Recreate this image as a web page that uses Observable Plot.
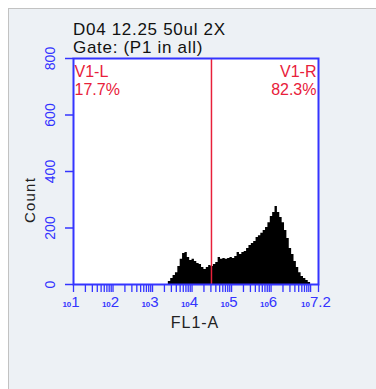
<!DOCTYPE html>
<html><head><meta charset="utf-8">
<script src="https://cdn.jsdelivr.net/npm/d3@7"></script>
<script src="https://cdn.jsdelivr.net/npm/@observablehq/plot@0.6"></script>
<style>body{margin:0;background:#fff;} svg{display:block}</style>
</head><body><div id="chart"></div>
<script>
const titleLines = ["D04 12.25 50ul 2X", "Gate: (P1 in all)"];
const yTicks = [0, 200, 400, 600, 800];
const xLabelExps = ["1", "2", "3", "4", "5", "6", "7.2"];
const xAxisLabel = "FL1-A";
const yAxisLabel = "Count";
const binStartLog = 3.4, binWidthLog = 0.06;
const counts = [11,21,32,42,64,89,110,113,96,85,89,81,74,71,60,53,60,67,64,71,
  78,96,89,92,89,92,96,92,99,113,106,113,117,127,138,145,152,166,173,181,
  191,202,219,241,255,276,255,237,219,191,163,127,106,81,60,42,28,21,14,7];
const gateValue = 31000;
const regionNames = ["V1-L", "V1-R"];
const regionPcts = ["17.7%", "82.3%"];

const blue = "#3434ff", red = "#e8203a";
const steps = counts.map((c, i) => ({x: 10 ** (binStartLog + i * binWidthLog), y: c}));
steps.push({x: 10 ** (binStartLog + counts.length * binWidthLog), y: 0});
const minorTicks = [];
for (let k = 1; k <= 6; k++) for (let m = 1; m <= 9; m++) minorTicks.push(m * 10 ** k);
minorTicks.push(10 ** 7, 10 ** 7.2);

const chart = Plot.plot({
  width: 376, height: 389,
  marginLeft: 73, marginRight: 58, marginTop: 58, marginBottom: 105,
  x: {type: "log", domain: [10, 10 ** 7.2]},
  y: {domain: [0, 800]},
  style: {background: "transparent", fontFamily: "Liberation Sans, Arial, sans-serif"},
  marks: [
    Plot.frame({fill: "white", stroke: "none"}),
    Plot.areaY(steps, {x: "x", y: "y", curve: "step-after", fill: "black"}),
    Plot.ruleX([gateValue], {stroke: red, strokeWidth: 1.5}),
    Plot.text([regionNames[0] + "\n" + regionPcts[0]], {frameAnchor: "top-left", lineAnchor: "top", dx: 1, dy: 6, fill: red, fontSize: 16, lineHeight: 1.1, textAnchor: "start"}),
    Plot.text([regionNames[1] + "\n" + regionPcts[1]], {frameAnchor: "top-right", lineAnchor: "top", dx: -2, dy: 6, fill: red, fontSize: 16, lineHeight: 1.1, textAnchor: "end"}),
    Plot.axisX(minorTicks, {tickSize: 8, tickFormat: () => "", stroke: blue, strokeWidth: 1.3, label: null}),
    Plot.axisY(yTicks, {tickSize: 8, tickFormat: () => "", stroke: blue, strokeWidth: 1.5, label: null}),
    Plot.text(yTicks, {y: d => d, text: d => String(d), frameAnchor: "left", dx: -23, rotate: -90, fill: blue, fontSize: 14, textAnchor: "middle", lineAnchor: "middle"}),
    Plot.frame({stroke: blue, strokeWidth: 2})
  ]
});

const svg = d3.select(chart);
svg.insert("rect", ":first-child")
  .attr("x", 8.5).attr("y", 8.5).attr("width", 400).attr("height", 400)
  .attr("fill", "#edf1f5").attr("stroke", "#c2c2c2");

const xs = chart.scale("x");
const ff = "Liberation Sans, Arial, sans-serif";
xLabelExps.forEach(e => {
  const t = svg.append("text")
    .attr("x", xs.apply(10 ** (+e)) - 2).attr("y", 306.5)
    .attr("text-anchor", "middle").attr("fill", blue).attr("font-family", ff);
  t.append("tspan").attr("font-size", 8).attr("font-weight", "bold").text("10");
  t.append("tspan").attr("font-size", 15).text(e);
});

svg.append("text").attr("x", 195).attr("y", 328).attr("text-anchor", "middle")
  .attr("font-size", 16).attr("letter-spacing", 1).attr("fill", "#222").attr("font-family", ff)
  .text(xAxisLabel);
svg.append("text").attr("transform", "translate(35,200) rotate(-90)").attr("text-anchor", "middle")
  .attr("font-size", 15).attr("letter-spacing", 1.2).attr("fill", "#222").attr("font-family", ff)
  .text(yAxisLabel);
titleLines.forEach((s, i) => {
  svg.append("text").attr("x", 73).attr("y", 35 + i * 17.5).attr("text-anchor", "start")
    .attr("font-size", 17).attr("letter-spacing", 0.7).attr("fill", "#111").attr("font-family", ff)
    .text(s);
});

document.getElementById("chart").appendChild(chart);
</script></body></html>
